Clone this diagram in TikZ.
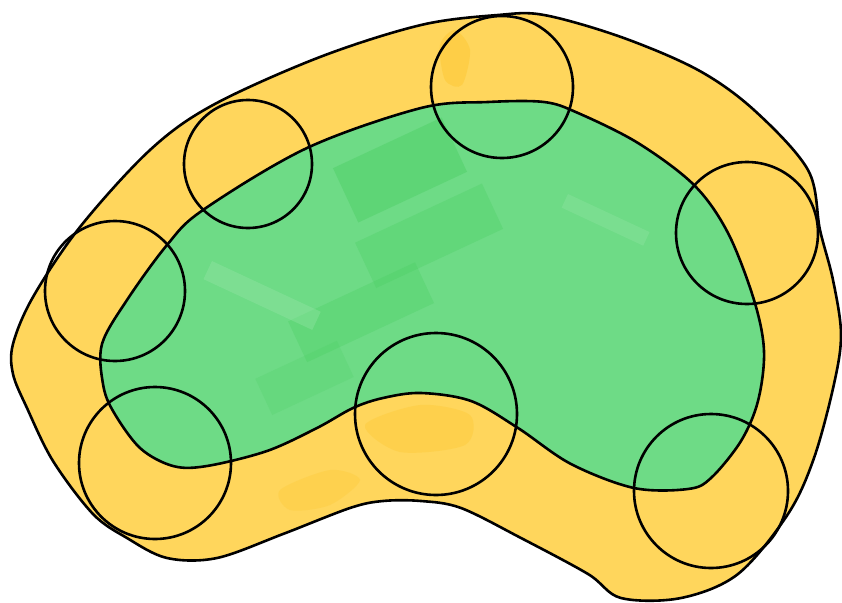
\documentclass[tikz,border=0pt]{standalone}
\begin{document}
\begin{tikzpicture}[x=1pt,y=-1pt,
  outline/.style={line width=2.6pt,line join=round},
  ring/.style={line width=2.6pt}]
\definecolor{yel}{RGB}{255,214,92}
\definecolor{yeldark}{RGB}{253,196,40}
\definecolor{grn}{RGB}{110,219,134}
\definecolor{grndark}{RGB}{72,206,96}
\definecolor{grnlight}{RGB}{160,232,175}
\useasboundingbox (0,0) rectangle (842,602);
% outer yellow body
\path[fill=yel,outline,draw=black] plot[smooth cycle,tension=0.55] coordinates {
 (421,25) (498,15) (544,15) (621,37) (698,70) (754,110) (808,170) (820,230) (833,280)
 (841,334) (834,384) (814,458) (788,514) (738,574) (681,598) (621,598) (588,574)
 (521,538) (461,508) (421,501) (383,501) (350,508) (283,534) (217,558) (167,558)
 (127,538) (93,514) (53,461) (27,408) (13,374) (13,344) (33,297) (80,227) (150,150)
 (213,105) (320,57)};
% darker yellow patches
\fill[yeldark,opacity=0.4] plot[smooth cycle] coordinates {(440,45) (455,30) (470,50) (462,85) (445,80)};
\fill[yeldark,opacity=0.3] plot[smooth cycle] coordinates {(365,425) (420,405) (470,415) (465,445) (400,452)};
\fill[yeldark,opacity=0.25] plot[smooth cycle] coordinates {(280,490) (330,470) (360,480) (330,505) (290,510)};
% inner green body
\begin{scope}
\path[clip] plot[smooth cycle,tension=0.55] coordinates {
 (421,108) (488,102) (544,102) (578,113) (638,143) (694,185) (728,233) (754,300)
 (764,351) (758,401) (741,441) (711,478) (688,489) (634,488) (571,464) (518,428)
 (471,401) (421,393) (383,398) (353,408) (317,428) (267,451) (207,466) (173,466)
 (140,448) (113,411) (103,384) (102,344) (127,300) (167,245) (203,210) (307,148)};
\fill[grn] (0,0) rectangle (842,602);
\fill[grndark,opacity=0.4,rotate around={25:(400,170)}] (340,140) rectangle (460,200);
\fill[grndark,opacity=0.3,rotate around={25:(420,240)}] (360,215) rectangle (500,265);
\fill[grndark,opacity=0.3,rotate around={25:(360,310)}] (290,290) rectangle (430,335);
\fill[grndark,opacity=0.2,rotate around={25:(300,380)}] (260,360) rectangle (350,400);
\fill[grnlight,opacity=0.3,rotate around={-25:(260,300)}] (200,285) rectangle (320,305);
\fill[grnlight,opacity=0.25,rotate around={-25:(600,220)}] (560,210) rectangle (650,225);
\end{scope}
\draw[outline] plot[smooth cycle,tension=0.55] coordinates {
 (421,108) (488,102) (544,102) (578,113) (638,143) (694,185) (728,233) (754,300)
 (764,351) (758,401) (741,441) (711,478) (688,489) (634,488) (571,464) (518,428)
 (471,401) (421,393) (383,398) (353,408) (317,428) (267,451) (207,466) (173,466)
 (140,448) (113,411) (103,384) (102,344) (127,300) (167,245) (203,210) (307,148)};
% circles
\draw[ring] (502,87) circle (71);
\draw[ring] (248,164) circle (64);
\draw[ring] (115,291) circle (70);
\draw[ring] (155,463) circle (76);
\draw[ring] (436,414) circle (81);
\draw[ring] (711,491) circle (77);
\draw[ring] (747,233) circle (71);
\end{tikzpicture}
\end{document}
